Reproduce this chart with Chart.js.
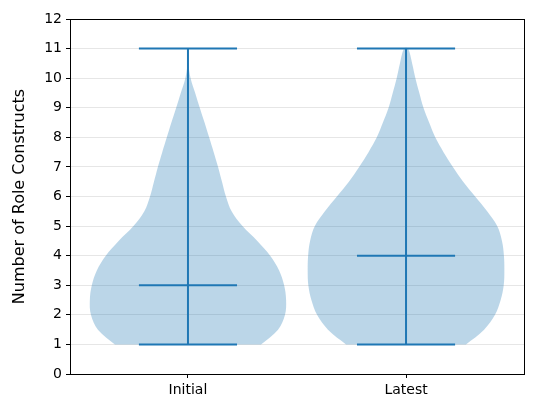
<!DOCTYPE html>
<html>
<head>
<meta charset="utf-8">
<script src="https://cdn.jsdelivr.net/npm/chart.js@4"></script>
<style>
  html, body { margin: 0; padding: 0; background: #fff; }
  #wrap { width: 536px; height: 416px; }
</style>
</head>
<body>
<div id="wrap"><canvas id="violinChart" width="536" height="416"></canvas></div>
<script>
const categories = ['Initial', 'Latest'];
const positions = [1, 2];
const yTicks = [0, 1, 2, 3, 4, 5, 6, 7, 8, 9, 10, 11, 12];

// density outline: y levels and half-width of each violin at that level
const yLevels = [1, 1.5, 2, 2.5, 3, 3.5, 4, 4.5, 5, 5.5, 6, 6.5, 7, 7.5, 8, 8.5, 9, 9.5, 10, 10.5, 11];
const initialWidth = [0.335, 0.413, 0.445, 0.450, 0.441, 0.418, 0.377, 0.318, 0.250, 0.200, 0.174, 0.156, 0.138, 0.118, 0.097, 0.076, 0.054, 0.033, 0.012, 0.002, 0.0005];
const latestWidth = [0.275, 0.358, 0.408, 0.434, 0.448, 0.451, 0.449, 0.440, 0.418, 0.372, 0.317, 0.262, 0.215, 0.172, 0.134, 0.106, 0.080, 0.061, 0.043, 0.028, 0.009];

const mins = [1, 1];
const maxs = [11, 11];
const medians = [3, 4];
const capHalf = 0.225;

const blue = '#1f77b4';

function violinShape(center, widths) {
  const left = yLevels.map((y, i) => ({ x: center - widths[i], y: y }));
  const right = yLevels.map((y, i) => ({ x: center + widths[i], y: y })).reverse();
  return left.concat(right);
}

function segment(points) {
  return {
    data: points,
    borderColor: blue,
    borderWidth: 2,
    pointRadius: 0,
    fill: false,
    tension: 0,
    order: 1
  };
}

const datasets = [];
[initialWidth, latestWidth].forEach((w, i) => {
  datasets.push({
    data: violinShape(positions[i], w),
    borderWidth: 0,
    borderColor: 'rgba(0,0,0,0)',
    backgroundColor: 'rgba(31,119,180,0.3)',
    fill: 'shape',
    pointRadius: 0,
    tension: 0.35,
    order: 2
  });
});
positions.forEach((c, i) => {
  datasets.push(segment([{ x: c, y: mins[i] }, { x: c, y: maxs[i] }]));
  datasets.push(segment([{ x: c - capHalf, y: mins[i] }, { x: c + capHalf, y: mins[i] }]));
  datasets.push(segment([{ x: c - capHalf, y: maxs[i] }, { x: c + capHalf, y: maxs[i] }]));
  datasets.push(segment([{ x: c - capHalf, y: medians[i] }, { x: c + capHalf, y: medians[i] }]));
});

const frame = {
  id: 'frame',
  afterDraw(chart) {
    const { ctx, chartArea: a } = chart;
    ctx.save();
    ctx.strokeStyle = '#000';
    ctx.lineWidth = 1;
    ctx.strokeRect(Math.round(a.left) + 0.5, Math.round(a.top) + 0.5, Math.round(a.right - a.left), Math.round(a.bottom - a.top));
    ctx.restore();
  }
};

const font = { family: 'DejaVu Sans', size: 14 };

new Chart(document.getElementById('violinChart'), {
  type: 'line',
  data: { datasets },
  plugins: [frame],
  options: {
    responsive: false,
    animation: false,
    layout: { padding: { left: 0, top: 19, right: 12, bottom: 0 } },
    plugins: { legend: { display: false }, tooltip: { enabled: false } },
    scales: {
      x: {
        type: 'linear',
        min: 0.459,
        max: 2.541,
        afterBuildTicks: s => { s.ticks = positions.map(v => ({ value: v })); },
        afterFit: s => { s.height = 42; },
        ticks: {
          color: '#000',
          font,
          padding: 4,
          callback: v => categories[positions.indexOf(v)]
        },
        grid: { drawOnChartArea: false, tickColor: '#000', tickLength: 4 },
        border: { color: '#000' }
      },
      y: {
        min: 0,
        max: 12,
        afterBuildTicks: s => { s.ticks = yTicks.map(v => ({ value: v })); },
        afterFit: s => { s.width = 70; },
        ticks: { color: '#000', font, padding: 4 },
        grid: { color: '#e6e6e6', tickColor: '#000', tickLength: 4 },
        border: { color: '#000' },
        title: {
          display: true,
          text: 'Number of Role Constructs',
          color: '#000',
          font: { family: 'DejaVu Sans', size: 16 },
          padding: { top: 10, bottom: 0 }
        }
      }
    }
  }
});
</script>
</body>
</html>
